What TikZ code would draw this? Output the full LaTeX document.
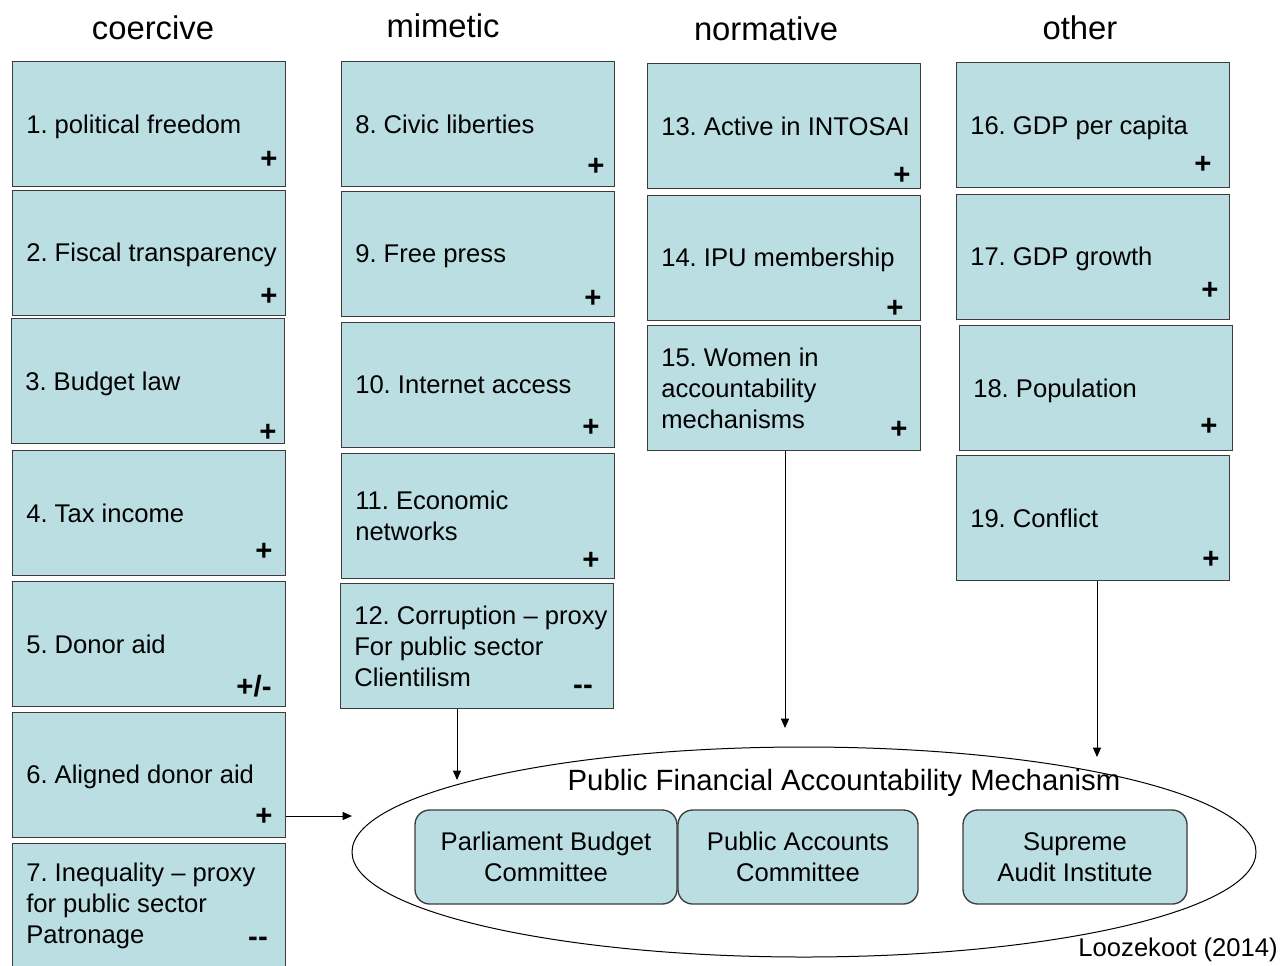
\documentclass[tikz,border=0pt]{standalone}
\usepackage{fontspec}
\setmainfont{Liberation Sans}
\usetikzlibrary{shapes.geometric,arrows.meta}
\definecolor{boxfill}{RGB}{187,222,227}
\definecolor{boxline}{RGB}{60,60,60}
\frenchspacing
\begin{document}
\begin{tikzpicture}[x=0.75pt,y=-0.75pt,
 box/.style={draw=boxline,fill=boxfill,line width=1pt,minimum width=204.75pt,minimum height=93.75pt,inner sep=0pt,anchor=north west},
 lbl/.style={font=\fontsize{19.2}{23.25}\selectfont,align=left,inner sep=0pt,anchor=west},
 sgn/.style={font=\fontsize{22}{26}\selectfont\bfseries,inner sep=0pt},
 hdr/.style={font=\fontsize{24.6}{29}\selectfont,inner sep=0pt},
 comm/.style={draw=boxline,fill=boxfill,line width=1pt,rounded corners=11pt,align=center,font=\fontsize{19.2}{23.25}\selectfont,minimum height=70.5pt,inner sep=0pt},
 arr/.style={-{Triangle[length=7pt,width=6pt]},line width=0.75pt}]
\useasboundingbox (0,0) rectangle (1284,965);
\clip (0,0) rectangle (1284,965);
% headers
\node[hdr] (h1) at (153,28) {coercive};
\node[hdr] (h2) at (443,26) {mimetic};
\node[hdr] (h3) at (766,29) {normative};
\node[hdr] (h4) at (1080,28) {other};
% column 1
\node[box] (b1) at (12,61) {};
\node[box] (b2) at (12,190) {};
\node[box] (b3) at (11,318) {};
\node[box] (b4) at (12,450) {};
\node[box] (b5) at (12,581) {};
\node[box] (b6) at (12,712) {};
\node[box,minimum height=105pt] (b7) at (12,843) {};
% column 2
\node[box] (b8) at (341,61) {};
\node[box] (b9) at (341,191) {};
\node[box] (b10) at (341,322) {};
\node[box] (b11) at (341,453) {};
\node[box] (b12) at (340,583) {};
% column 3
\node[box] (b13) at (647,63) {};
\node[box] (b14) at (647,195) {};
\node[box] (b15) at (647,325) {};
% column 4
\node[box] (b16) at (956,62) {};
\node[box] (b17) at (956,194) {};
\node[box] (b18) at (959,325) {};
\node[box] (b19) at (956,455) {};
% labels
\node[lbl] (t1) at ([xshift=10.5pt,yshift=-2pt]b1.west) {1. political freedom};
\node[lbl] (t2) at ([xshift=10.5pt,yshift=-1pt]b2.west) {2. Fiscal transparency};
\node[lbl] (t3) at ([xshift=10.5pt,yshift=-2pt]b3.west) {3. Budget law};
\node[lbl] (t4) at ([xshift=10.5pt]b4.west) {4. Tax income};
\node[lbl] (t5) at ([xshift=10.5pt]b5.west) {5. Donor aid};
\node[lbl] (t6) at ([xshift=10.5pt,yshift=-1.5pt]b6.west) {6. Aligned donor aid};
\node[lbl] (t7) at (26,906) {7. Inequality – proxy\\for public sector\\Patronage};
\node[lbl] (t8) at ([xshift=10.5pt]b8.west) {8. Civic liberties};
\node[lbl] (t9) at ([xshift=10.5pt,yshift=-1.5pt]b9.west) {9. Free press};
\node[lbl] (t10) at ([xshift=10.5pt]b10.west) {10. Internet access};
\node[lbl] (t11) at ([xshift=10.5pt]b11.west) {11. Economic\\networks};
\node[lbl] (t12) at ([xshift=10.5pt]b12.west) {12. Corruption – proxy\\For public sector\\Clientilism};
\node[lbl] (t13) at ([xshift=10.5pt]b13.west) {13. Active in INTOSAI};
\node[lbl] (t14) at ([xshift=10.5pt,yshift=-1.5pt]b14.west) {14. IPU membership};
\node[lbl] (t15) at ([xshift=10.5pt]b15.west) {15. Women in\\accountability\\mechanisms};
\node[lbl] (t16) at ([xshift=10.5pt,yshift=-2pt]b16.west) {16. GDP per capita};
\node[lbl] (t17) at ([xshift=10.5pt,yshift=-1.5pt]b17.west) {17. GDP growth};
\node[lbl] (t18) at ([xshift=10.5pt,yshift=-2pt]b18.west) {18. Population};
\node[lbl] (t19) at ([xshift=10.5pt]b19.west) {19. Conflict};
% signs
\node[sgn] (s1) at (269,160) {+};
\node[sgn] (s2) at (269,297) {+};
\node[sgn] (s3) at (268,433) {+};
\node[sgn] (s4) at (264,552) {+};
\node[sgn] (s5) at (254,686) {+/-};
\node[sgn] (s6) at (264,817) {+};
\node[sgn] (s7) at (258,942) {-{}-};
\node[sgn] (s8) at (596,167) {+};
\node[sgn] (s9) at (593,299) {+};
\node[sgn] (s10) at (591,428) {+};
\node[sgn] (s11) at (591,561) {+};
\node[sgn] (s12) at (583,690) {-{}-};
\node[sgn] (s13) at (902,176) {+};
\node[sgn] (s14) at (895,309) {+};
\node[sgn] (s15) at (899,430) {+};
\node[sgn] (s16) at (1203,165) {+};
\node[sgn] (s17) at (1210,291) {+};
\node[sgn] (s18) at (1209,427) {+};
\node[sgn] (s19) at (1211,560) {+};
% ellipse
\node[ellipse,draw,line width=0.75pt,minimum width=678pt,minimum height=157.5pt,inner sep=0pt] (ell) at (804,852) {};
\node[font=\fontsize{22}{26}\selectfont,inner sep=0pt] (elab) at (844,783) {Public Financial Accountability Mechanism};
\node[comm,minimum width=196.5pt] (c1) at (546,857) {Parliament Budget\\Committee};
\node[comm,minimum width=180pt] (c2) at (798,857) {Public Accounts\\Committee};
\node[comm,minimum width=168pt] (c3) at (1075,857) {Supreme\\Audit Institute};
\node[font=\fontsize{19.2}{23.25}\selectfont,inner sep=0pt,anchor=east] (src) at (1278,950) {Loozekoot (2014)};
% arrows
\coordinate (e6) at (352,816);
\coordinate (e12) at (457,780);
\coordinate (e15) at (785,728);
\coordinate (e19) at (1097,757);
\draw[arr] (b6.east |- e6) -- (e6);
\draw[arr] (b12.south -| e12) -- (e12);
\draw[arr] (b15.south -| e15) -- (e15);
\draw[arr] (b19.south -| e19) -- (e19);
\end{tikzpicture}
\end{document}
